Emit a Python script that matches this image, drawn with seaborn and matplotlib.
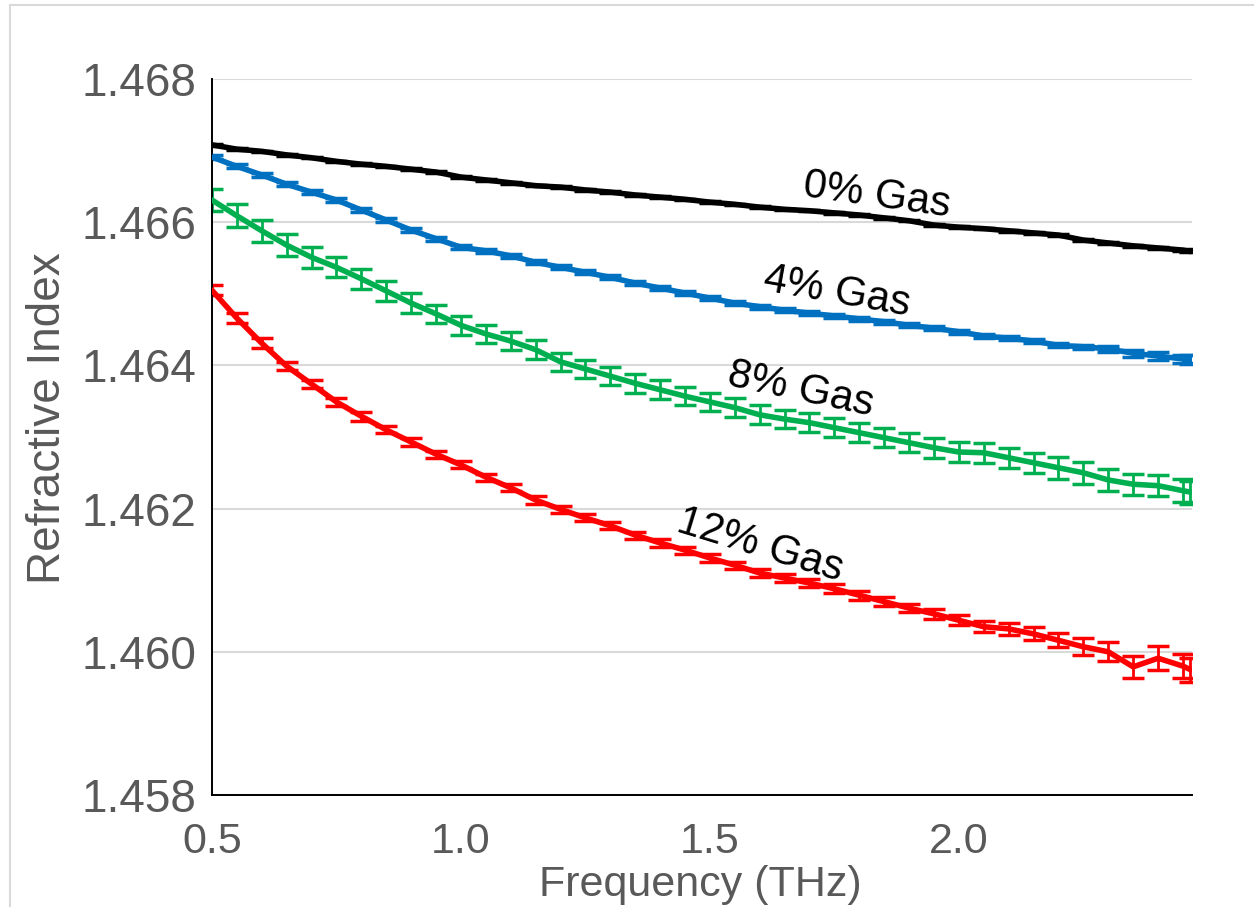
import matplotlib
matplotlib.use("Agg")
import matplotlib.pyplot as plt
import matplotlib.patches as mpatches
from matplotlib.ticker import MultipleLocator, FuncFormatter
import seaborn as sns
import pandas as pd

freq = [0.50, 0.55, 0.60, 0.65, 0.70, 0.75, 0.80, 0.85, 0.90, 0.95,
        1.00, 1.05, 1.10, 1.15, 1.20, 1.25, 1.30, 1.35, 1.40, 1.45,
        1.50, 1.55, 1.60, 1.65, 1.70, 1.75, 1.80, 1.85, 1.90, 1.95,
        2.00, 2.05, 2.10, 2.15, 2.20, 2.25, 2.30, 2.35, 2.40, 2.45, 2.465]

n_0 = [1.46708, 1.46702, 1.46699, 1.46694, 1.46690, 1.46685, 1.46681, 1.46678, 1.46674, 1.46670,
       1.46663, 1.46659, 1.46655, 1.46651, 1.46649, 1.46645, 1.46642, 1.46638, 1.46635, 1.46632,
       1.46628, 1.46625, 1.46621, 1.46618, 1.46616, 1.46613, 1.46610, 1.46606, 1.46602, 1.46596,
       1.46593, 1.46591, 1.46588, 1.46585, 1.46582, 1.46575, 1.46571, 1.46567, 1.46564, 1.46561, 1.46559]
n_4 = [1.46691, 1.46678, 1.46666, 1.46653, 1.46642, 1.46631, 1.46617, 1.46603, 1.46589, 1.46577,
       1.46565, 1.46560, 1.46553, 1.46544, 1.46537, 1.46530, 1.46523, 1.46515, 1.46508, 1.46501,
       1.46494, 1.46487, 1.46482, 1.46477, 1.46473, 1.46469, 1.46465, 1.46461, 1.46456, 1.46452,
       1.46447, 1.46441, 1.46438, 1.46434, 1.46428, 1.46426, 1.46423, 1.46417, 1.46413, 1.46409, 1.46408]
n_8 = [1.46631, 1.46609, 1.46588, 1.46568, 1.46551, 1.46537, 1.46521, 1.46504, 1.46487, 1.46472,
       1.46456, 1.46444, 1.46434, 1.46422, 1.46405, 1.46395, 1.46385, 1.46375, 1.46366, 1.46357,
       1.46349, 1.46341, 1.46331, 1.46325, 1.46320, 1.46313, 1.46306, 1.46299, 1.46292, 1.46285,
       1.46279, 1.46278, 1.46271, 1.46264, 1.46257, 1.46250, 1.46240, 1.46234, 1.46232, 1.46225, 1.46223]
n_12 = [1.46505, 1.46466, 1.46431, 1.46399, 1.46374, 1.46349, 1.46329, 1.46310, 1.46293, 1.46276,
        1.46261, 1.46244, 1.46229, 1.46212, 1.46199, 1.46187, 1.46176, 1.46163, 1.46152, 1.46142,
        1.46131, 1.46121, 1.46110, 1.46103, 1.46096, 1.46088, 1.46079, 1.46070, 1.46061, 1.46053,
        1.46044, 1.46035, 1.46032, 1.46025, 1.46016, 1.46007, 1.46000, 1.45979, 1.45991, 1.45980, 1.45975]

err_0 = [0.00001] * 41
err_4 = [0.00003] * 36 + [0.00004, 0.00005, 0.00006, 0.00006, 0.00006]
err_8 = [0.00016, 0.00016, 0.00015, 0.00015, 0.00015, 0.00014, 0.00014, 0.00014, 0.00014, 0.00013,
         0.00013, 0.00013, 0.00013, 0.00013, 0.00013, 0.00013, 0.00013, 0.00013, 0.00013, 0.00013,
         0.00013, 0.00013, 0.00013, 0.00013, 0.00013, 0.00013, 0.00013, 0.00013, 0.00013, 0.00014,
         0.00014, 0.00014, 0.00014, 0.00014, 0.00015, 0.00015, 0.00015, 0.00015, 0.00015, 0.00016, 0.00016]
err_12 = [0.00007, 0.00007, 0.00007, 0.00006, 0.00006, 0.00006, 0.00006, 0.00005, 0.00005, 0.00005,
          0.00005, 0.00005, 0.00005, 0.00005, 0.00005, 0.00005, 0.00005, 0.00005, 0.00005, 0.00005,
          0.00005, 0.00005, 0.00005, 0.00005, 0.00005, 0.00006, 0.00006, 0.00006, 0.00006, 0.00007,
          0.00007, 0.00008, 0.00008, 0.00009, 0.00010, 0.00012, 0.00013, 0.00015, 0.00017, 0.00017, 0.00017]

series_names = ["0% Gas", "4% Gas", "8% Gas", "12% Gas"]
series_vals = [n_0, n_4, n_8, n_12]
series_errs = [err_0, err_4, err_8, err_12]
colors = ["#000000", "#0070C0", "#00B050", "#FF0000"]

label_x = [1.835, 1.755, 1.683, 1.600]
label_y = [1.46638, 1.46503, 1.46366, 1.46149]
label_rot = [-8, -10, -12, -17]

sns.set_theme(style="white")
plt.rcParams["font.family"] = ["Liberation Sans", "DejaVu Sans"]

fig = plt.figure(figsize=(12.54, 9.07), dpi=100)
ax = fig.add_axes([0.169, 0.1235, 0.7815, 0.7894])

rows = []
for name, vals in zip(series_names, series_vals):
    for f, v in zip(freq, vals):
        rows.append({"Frequency": f, "n": v, "series": name})
df = pd.DataFrame(rows)

for name, vals, errs, c in zip(series_names, series_vals, series_errs, colors):
    ax.errorbar(freq, vals, yerr=errs, fmt="none", ecolor=c, elinewidth=2.0,
                capsize=8, capthick=2.5, zorder=2)

sns.lineplot(data=df, x="Frequency", y="n", hue="series", palette=colors,
             hue_order=series_names, linewidth=4, legend=False, ax=ax,
             zorder=3)

for name, lx, ly, r in zip(series_names, label_x, label_y, label_rot):
    ax.text(lx, ly, name, fontsize=30, color="black", rotation=r,
            ha="center", va="center", rotation_mode="anchor")

ax.set_xlim(0.5, 2.468)
ax.set_ylim(1.458, 1.468)

ax.yaxis.set_major_locator(MultipleLocator(0.002))
ax.yaxis.set_minor_locator(MultipleLocator(0.0005))
ax.yaxis.set_major_formatter(FuncFormatter(lambda v, p: f"{v:.3f}"))
ax.xaxis.set_major_locator(MultipleLocator(0.25))
ax.xaxis.set_minor_locator(MultipleLocator(0.125))

def xfmt(v, p):
    if abs((v * 2) - round(v * 2)) < 1e-6:
        return f"{v:.1f}"
    return ""
ax.xaxis.set_major_formatter(FuncFormatter(xfmt))

ax.grid(axis="y", which="major", color="#d9d9d9", linewidth=1.5, zorder=0)
ax.grid(axis="x", visible=False)
ax.set_axisbelow(True)

for s in ["top", "right"]:
    ax.spines[s].set_visible(False)
for s in ["left", "bottom"]:
    ax.spines[s].set_color("black")
    ax.spines[s].set_linewidth(1.4)

ax.tick_params(axis="both", which="major", direction="inout", length=19, width=1.4,
               color="black", labelsize=33, labelcolor="#595959", pad=2)
ax.tick_params(axis="both", which="minor", direction="out", length=7, width=1.4,
               color="black")
ax.tick_params(axis="x", which="major", pad=10, labelsize=31)

ax.set_xlabel("Frequency (THz)", fontsize=31, color="#595959")
ax.set_ylabel("Refractive Index", fontsize=33, color="#595959")
ax.xaxis.set_label_coords((700 - 212) / 980, (795 - 865) / 716)
ax.yaxis.set_label_coords((70 - 212) / 980, (795 - 418) / 716)

frame = mpatches.Rectangle((10 / 1254, -0.05), 1.2, 1 - 5 / 907 + 0.05,
                           transform=fig.transFigure, fill=False,
                           edgecolor="#d9d9d9", linewidth=1.5, zorder=0)
fig.patches.append(frame)

fig.savefig("out.png", dpi=100, facecolor="white")
